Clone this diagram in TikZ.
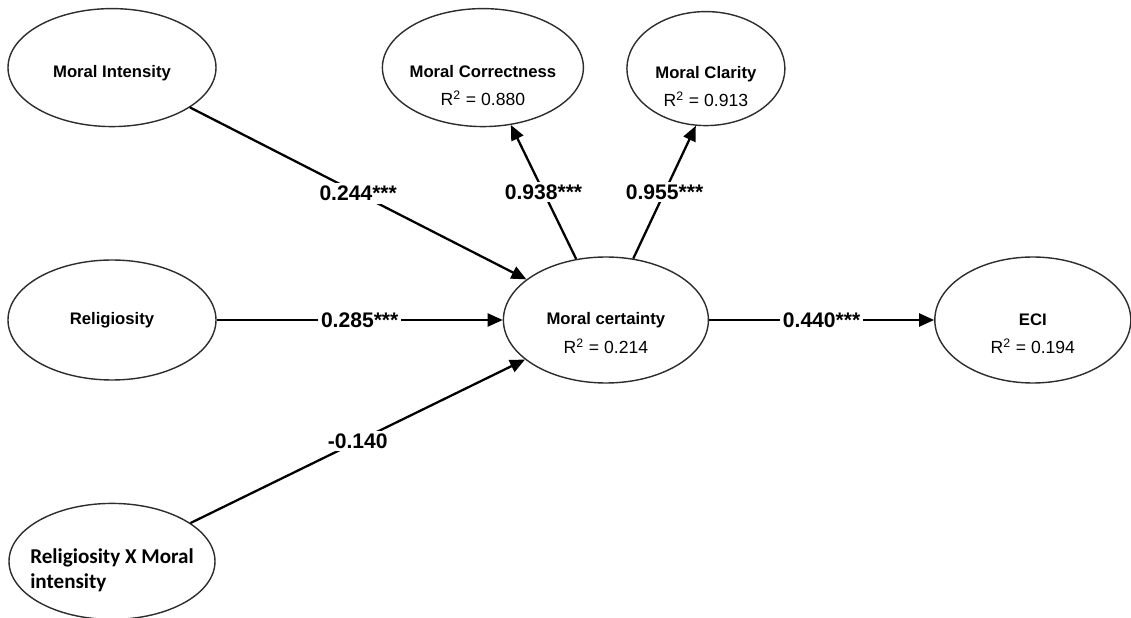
\documentclass[tikz,border=0pt]{standalone}
\usepackage{fontspec}
\setmainfont{Liberation Sans}
\newfontfamily\calibrifont{Carlito}
\usepackage{tikz}
\usetikzlibrary{
  arrows.meta,
  positioning,
  shapes.geometric
}
\definecolor{ringgray}{RGB}{45,45,45}
\tikzset{
  latent/.style={draw=ringgray,line width=0.8pt,ellipse,fill=white,
    align=center,inner xsep=-20pt,inner ysep=0pt,
    font=\fontsize{9.5}{11}\selectfont\bfseries},
  lowtext/.style={text height=11pt,text depth=0pt},
  rsqlab/.style={font=\fontsize{10}{12}\selectfont,yshift=-5.2mm,inner sep=0pt},
  rsq/.style={label={[rsqlab]center:R\textsuperscript{2} = #1}},
  rsqtop/.style={label={[rsqlab,yshift=-0.9mm]center:R\textsuperscript{2} = #1}},
  pathflow/.style={-{Triangle[length=3mm,width=2.6mm]},line width=1.3pt,draw=black},
  coef/.style={font=\fontsize{12}{14}\selectfont\bfseries,fill=white,inner sep=1.5pt}
}

\begin{document}
\begin{tikzpicture}
  \useasboundingbox (0,0) rectangle (22.62,-12.36);
  \node[latent,minimum width=4.16cm,minimum height=2.4cm] (relig) at (2.24,-6.4) {Religiosity};
  \node[latent,lowtext,above=2.64cm of relig,minimum width=4.16cm,minimum height=2.36cm] (intens) {Moral Intensity};
  \node[latent,below=2.44cm of relig,minimum width=4.12cm,minimum height=2.32cm,
    font=\calibrifont\bfseries\fontsize{12}{14.5}\selectfont] (inter)
    {\raisebox{-8.5pt}[0pt][0pt]{\begin{tabular}{@{}l@{}}Religiosity X Moral\\intensity\end{tabular}}};
  \node[latent,right=5.72cm of relig,minimum width=4.1cm,minimum height=2.52cm,rsq={0.214}] (certain) {Moral certainty};
  \node[latent,right=4.5cm of certain,minimum width=3.92cm,minimum height=2.52cm,rsq={0.194}] (eci) {ECI};
  \node[latent,lowtext,above=2.58cm of certain,xshift=-2.46cm,minimum width=4.02cm,minimum height=2.36cm,rsqtop={0.880}] (correct) {Moral Correctness};
  \node[latent,lowtext,above=2.6cm of certain,xshift=2cm,minimum width=3.16cm,minimum height=2.28cm,rsqtop={0.913}] (clarity) {Moral Clarity};
  % structural paths
  \draw[pathflow] (intens)--node[coef]{0.244***}(certain);
  \draw[pathflow] (relig)--node[coef]{0.285***}(certain);
  \draw[pathflow] (inter)--node[coef]{-0.140}(certain);
  \draw[pathflow] (certain)--node[coef]{0.938***}(correct);
  \draw[pathflow] (certain.66)--node[coef]{0.955***}(clarity.260);
  \draw[pathflow] (certain)--node[coef]{0.440***}(eci);
\end{tikzpicture}
\end{document}
